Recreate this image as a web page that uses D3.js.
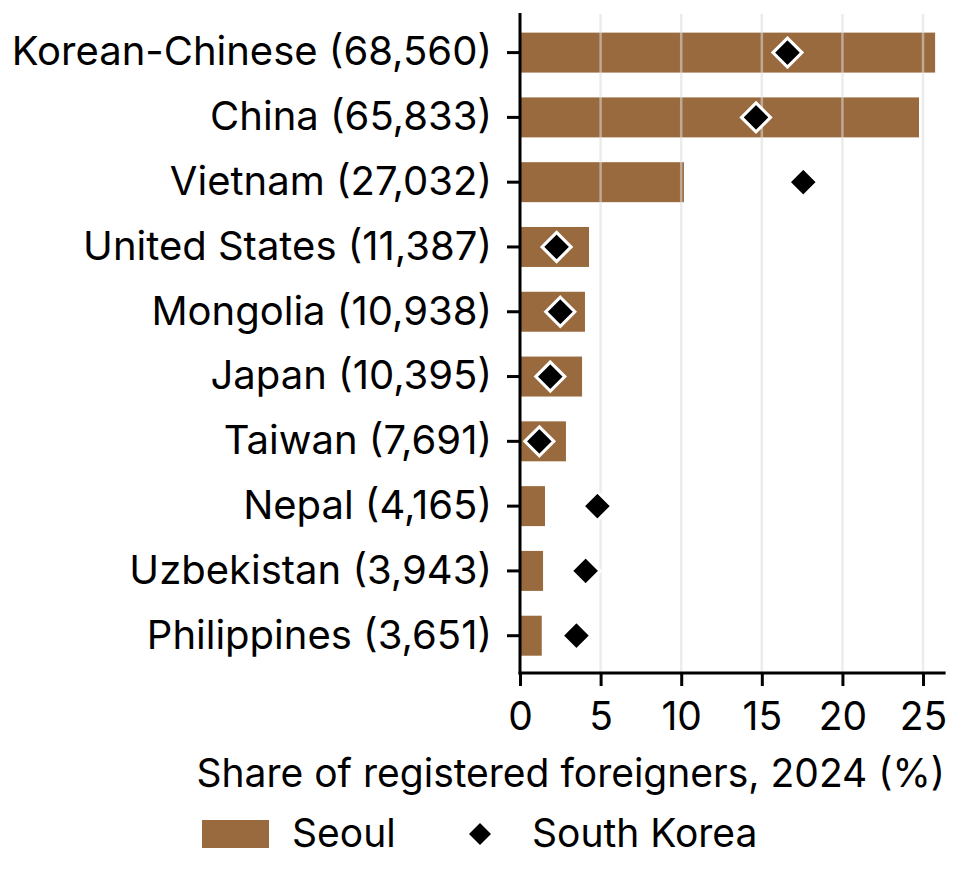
<!DOCTYPE html>
<html>
<head>
<meta charset="utf-8">
<script src="https://cdn.jsdelivr.net/npm/d3@7"></script>
<style>
  html, body { margin: 0; padding: 0; background: #fff; }
  svg { display: block; font-family: Inter, "Noto Sans", sans-serif; }
</style>
</head>
<body>
<svg id="chart" width="962" height="872"></svg>
<script>
const categories = ["Korean-Chinese (68,560)", "China (65,833)", "Vietnam (27,032)", "United States (11,387)",
  "Mongolia (10,938)", "Japan (10,395)", "Taiwan (7,691)", "Nepal (4,165)", "Uzbekistan (3,943)", "Philippines (3,651)"];
const seoulShare = [25.75, 24.75, 10.17, 4.28, 4.03, 3.85, 2.85, 1.55, 1.43, 1.35];
const koreaShare = [16.59, 14.64, 17.57, 2.27, 2.5, 1.88, 1.2, 4.8, 4.07, 3.5];
const xTicks = [0, 5, 10, 15, 20, 25];
const xMax = 26.4;
const xTitle = "Share of registered foreigners, 2024 (%)";
const legendLabels = ["Seoul", "South Korea"];

const barColor = "#996a3e";
const svg = d3.select("#chart");
const fs = 39;
const fsY = 40;

const x = d3.scaleLinear().domain([0, xMax]).range([520, 945.6]);
const y = d3.scaleBand().domain(categories).range([20.3, 668]).paddingInner(0.383).paddingOuter(0.19);

// bars
svg.append("g").selectAll("rect").data(categories).join("rect")
  .attr("x", x(0))
  .attr("y", d => y(d))
  .attr("width", (d, i) => x(seoulShare[i]) - x(0))
  .attr("height", y.bandwidth())
  .attr("fill", barColor);

// gridlines (over bars, semi-transparent)
svg.append("g").selectAll("line").data(xTicks.filter(t => t > 0)).join("line")
  .attr("x1", d => x(d)).attr("x2", d => x(d))
  .attr("y1", 14).attr("y2", 673)
  .attr("stroke", "#dcdcdc").attr("stroke-opacity", 0.55).attr("stroke-width", 2.5);

// diamonds
const r = 14.5;
const diamond = (cx, cy, rr) => `M${cx},${cy - rr}L${cx + rr},${cy}L${cx},${cy + rr}L${cx - rr},${cy}Z`;
svg.append("g").selectAll("path").data(categories).join("path")
  .attr("d", (d, i) => diamond(x(koreaShare[i]), y(d) + y.bandwidth() / 2, r))
  .attr("fill", "#000").attr("stroke", "#fff").attr("stroke-width", 3.1)
  .attr("stroke-linejoin", "miter");

// y axis
const yAxis = svg.append("g").attr("transform", `translate(${x(0)},0)`)
  .call(d3.axisLeft(y).tickSize(13).tickPadding(15));
yAxis.select(".domain").remove();
yAxis.selectAll(".tick line").attr("stroke", "#000").attr("stroke-width", 3);
yAxis.selectAll(".tick text").attr("font-size", fsY).attr("fill", "#000")
  .attr("font-family", "Inter, 'Noto Sans', sans-serif");
svg.append("line").attr("x1", x(0)).attr("x2", x(0)).attr("y1", 13).attr("y2", 674.5)
  .attr("stroke", "#000").attr("stroke-width", 3);

// x axis
const xAxis = svg.append("g").attr("transform", `translate(0,673)`)
  .call(d3.axisBottom(x).tickValues(xTicks).tickSize(13).tickPadding(16).tickFormat(d3.format("d")));
xAxis.select(".domain").remove();
xAxis.selectAll(".tick line").attr("stroke", "#000").attr("stroke-width", 3);
xAxis.selectAll(".tick text").attr("font-size", fs).attr("fill", "#000")
  .attr("font-family", "Inter, 'Noto Sans', sans-serif");
svg.append("line").attr("x1", x(0) - 1.5).attr("x2", x(xMax)).attr("y1", 673).attr("y2", 673)
  .attr("stroke", "#000").attr("stroke-width", 3);

// x title
svg.append("text").attr("x", 945).attr("y", 787).attr("text-anchor", "end")
  .attr("font-size", fs).attr("fill", "#000").text(xTitle);

// legend
const lg = svg.append("g");
lg.append("rect").attr("x", 202).attr("y", 820).attr("width", 67).attr("height", 28).attr("fill", barColor);
lg.append("text").attr("x", 292).attr("y", 847).attr("font-size", fs).attr("fill", "#000").text(legendLabels[0]);
lg.append("path").attr("d", diamond(480, 834, 11)).attr("fill", "#000");
lg.append("text").attr("x", 532).attr("y", 847).attr("font-size", fs).attr("fill", "#000").text(legendLabels[1]);
</script>
</body>
</html>
